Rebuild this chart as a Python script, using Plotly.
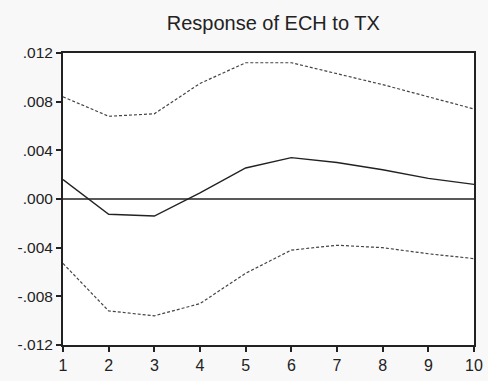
import plotly.graph_objects as go

periods = [1, 2, 3, 4, 5, 6, 7, 8, 9, 10]
response = [0.0016, -0.00125, -0.0014, 0.0005, 0.00255, 0.0034, 0.0030, 0.0024, 0.0017, 0.0012]
upper = [0.0084, 0.0068, 0.0070, 0.0095, 0.0112, 0.0112, 0.0103, 0.0094, 0.0084, 0.0074]
lower = [-0.0053, -0.0092, -0.0096, -0.0086, -0.0061, -0.0042, -0.0038, -0.0040, -0.0045, -0.0049]
y_ticks = [-0.012, -0.008, -0.004, 0.0, 0.004, 0.008, 0.012]
y_labels = ["-.012", "-.008", "-.004", ".000", ".004", ".008", ".012"]
title = "Response of ECH to TX"

fig = go.Figure()
fig.add_trace(go.Scatter(x=periods, y=upper, mode="lines",
                         line=dict(color="#444444", width=1.2, dash="3px,2px")))
fig.add_trace(go.Scatter(x=periods, y=lower, mode="lines",
                         line=dict(color="#444444", width=1.2, dash="3px,2px")))
fig.add_trace(go.Scatter(x=periods, y=response, mode="lines",
                         line=dict(color="#222222", width=1.4)))
fig.add_shape(type="line", xref="x", yref="y", x0=periods[0], x1=periods[-1], y0=0, y1=0,
              line=dict(color="#222222", width=1.5), layer="above")

fig.update_layout(
    width=488, height=381,
    margin=dict(l=63, r=5, t=53, b=36),
    paper_bgcolor="#f8f8f8", plot_bgcolor="#ffffff",
    showlegend=False,
    font=dict(family="Liberation Sans, Arial, sans-serif", color="#222222"),
    title=dict(text=title, x=0.56, xanchor="center", y=1 - 23 / 381, yanchor="middle",
               font=dict(size=20, color="#222222")),
)
fig.update_xaxes(range=[1, 10], tickvals=periods, ticks="outside", ticklen=5, tickwidth=1.5,
                 tickcolor="#222222", showline=True, linecolor="#222222", linewidth=2,
                 mirror=True, showgrid=False, zeroline=False, ticklabeloverflow="allow",
                 tickfont=dict(size=16, color="#222222"))
fig.update_yaxes(range=[-0.012, 0.012], tickvals=y_ticks, ticktext=y_labels, ticks="outside",
                 ticklen=5, tickwidth=1.5, tickcolor="#222222", showline=True,
                 linecolor="#222222", linewidth=2, mirror=True, showgrid=False, zeroline=False,
                 tickfont=dict(size=15.5, color="#222222"))

fig.write_html("out.html")
